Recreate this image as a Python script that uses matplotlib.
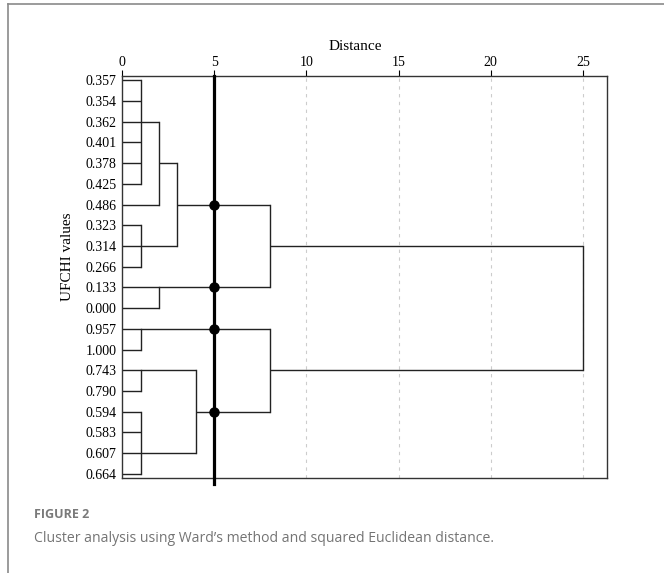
import matplotlib.pyplot as plt
from matplotlib.lines import Line2D

# leaf labels (top to bottom) and the merges
leaves = ['0.357', '0.354', '0.362', '0.401', '0.378', '0.425', '0.486',
          '0.323', '0.314', '0.266', '0.133', '0.000', '0.957', '1.000',
          '0.743', '0.790', '0.594', '0.583', '0.607', '0.664']

# name: (children, rescaled distance, leaf the link leaves from)
merges = {
    'A': (['0.357', '0.354', '0.362', '0.401', '0.378', '0.425'], 1, '0.362'),
    'B': (['A', '0.486'], 2, '0.378'),
    'C': (['0.323', '0.314', '0.266'], 1, '0.314'),
    'D': (['B', 'C'], 3, '0.486'),
    'E': (['0.133', '0.000'], 2, '0.133'),
    'F': (['D', 'E'], 8, '0.314'),
    'G': (['0.957', '1.000'], 1, '0.957'),
    'H': (['0.743', '0.790'], 1, '0.743'),
    'I': (['0.594', '0.583', '0.607', '0.664'], 1, '0.607'),
    'J': (['H', 'I'], 4, '0.594'),
    'K': (['G', 'J'], 8, '0.743'),
    'L': (['F', 'K'], 25, None),
}
cut = 5
xticks = [0, 5, 10, 15, 20, 25]

plt.rcParams['font.family'] = ['Liberation Serif', 'DejaVu Serif']

fig = plt.figure(figsize=(6.64, 5.73), dpi=100)
ax = fig.add_axes([0.184, 0.166, 0.730, 0.701])

row = {lab: i for i, lab in enumerate(leaves)}
pos = {lab: (i, 0) for i, lab in enumerate(leaves)}
segs = []
for name, (kids, d, anchor) in merges.items():
    ys = []
    for k in kids:
        y, x0 = pos[k]
        ys.append(y)
        ax.plot([x0, d], [y, y], color='#222222', lw=1.0, solid_capstyle='butt')
        segs.append((x0, d, y))
    ax.plot([d, d], [min(ys), max(ys)], color='#222222', lw=1.0)
    if anchor is not None:
        pos[name] = (row[anchor], d)

# cut line and the points where it crosses the links
ax.add_line(Line2D([cut, cut], [-0.2, 19.5], color='black', lw=2.3, clip_on=False, zorder=5))
for x0, x1, y in segs:
    if x0 < cut < x1:
        ax.plot(cut, y, 'o', color='black', ms=6.5, zorder=6)

for t in xticks[1:]:
    ax.axvline(t, color='#cccccc', lw=0.8, ls=(0, (3, 4)), zorder=0)

ax.set_xlim(0, 26.3)
ax.set_ylim(19.2, -0.2)
ax.xaxis.tick_top()
ax.set_xticks(xticks)
ax.set_xticklabels([str(t) for t in xticks], fontsize=10)
ax.set_yticks(range(len(leaves)))
ax.set_yticklabels(leaves, fontsize=10)
ax.tick_params(axis='x', length=4, width=0.8, pad=1)
ax.tick_params(axis='y', length=0, pad=4)
ax.xaxis.set_label_position('top')
ax.set_xlabel('Distance', fontsize=11, labelpad=2)
ax.xaxis.set_label_coords(0.48, 1.065)
ax.set_ylabel('UFCHI values', fontsize=11)
ax.yaxis.set_label_coords(-0.099, 0.55)
for s in ax.spines.values():
    s.set_color('#333333')
    s.set_linewidth(1.0)

# page frame and caption
fig.add_artist(Line2D([8 / 664, 8 / 664], [0, 1 - 4 / 573], transform=fig.transFigure, color='#8a8a8a', lw=1.2))
fig.add_artist(Line2D([8 / 664, 1], [1 - 4 / 573, 1 - 4 / 573], transform=fig.transFigure, color='#8a8a8a', lw=1.2))
fig.text(34 / 664, 1 - 515 / 573, 'FIGURE 2', family=['Open Sans', 'DejaVu Sans'], weight='bold',
         fontsize=9, color='#7a7a7a', va='center')
fig.text(34 / 664, 1 - 539 / 573, 'Cluster analysis using Ward\u2019s method and squared Euclidean distance.',
         family=['Open Sans', 'DejaVu Sans'], weight='normal', fontsize=10.1, color='#747474', va='center')

fig.savefig('out.png', dpi=100)
